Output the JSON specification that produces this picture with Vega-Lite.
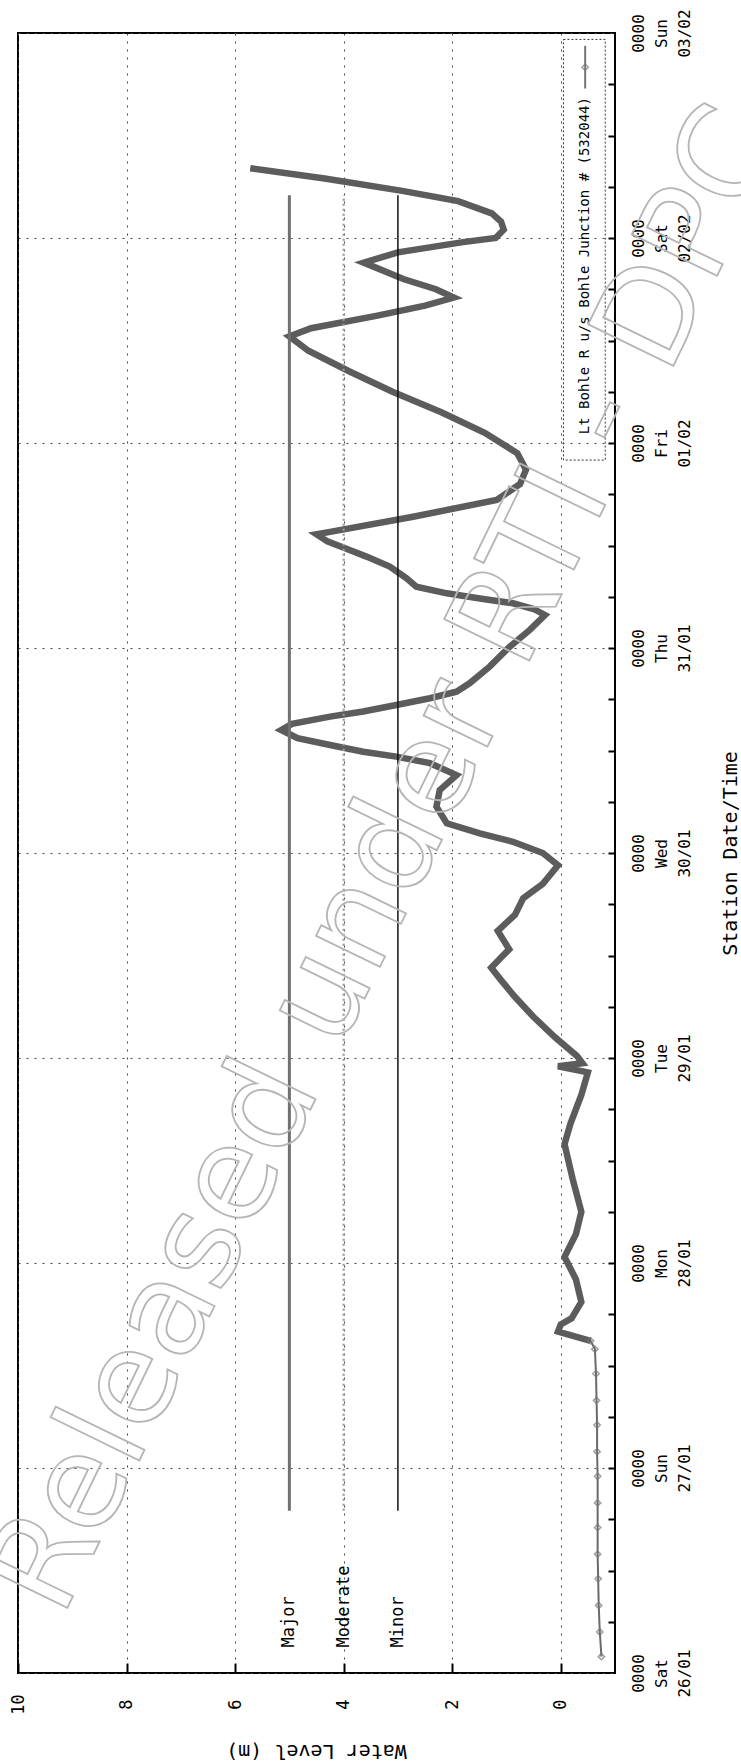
{
  "$schema": "https://vega.github.io/schema/vega-lite/v6.json",
  "width": 597,
  "height": 1640,
  "autosize": {"type": "none"},
  "padding": {"left": 18, "top": 33, "right": 126, "bottom": 91},
  "background": "white",
  "config": {
    "view": {"stroke": "black", "strokeWidth": 2},
    "axis": {"labelFont": "DejaVu Sans Mono", "titleFont": "DejaVu Sans Mono", "labelColor": "#000", "titleColor": "#000", "titleFontWeight": "normal"}
  },
  "resolve": {"axis": {"x": "independent", "y": "independent"}},
  "datasets": {
    "series": [
      {"t": "2019-01-26T01:55", "level": -0.75},
      {"t": "2019-01-26T04:48", "level": -0.72},
      {"t": "2019-01-26T07:55", "level": -0.7},
      {"t": "2019-01-26T11:02", "level": -0.69},
      {"t": "2019-01-26T13:55", "level": -0.68},
      {"t": "2019-01-26T17:02", "level": -0.68},
      {"t": "2019-01-26T19:55", "level": -0.68},
      {"t": "2019-01-26T23:02", "level": -0.68},
      {"t": "2019-01-27T01:55", "level": -0.67},
      {"t": "2019-01-27T05:02", "level": -0.67},
      {"t": "2019-01-27T07:55", "level": -0.66},
      {"t": "2019-01-27T11:02", "level": -0.65},
      {"t": "2019-01-27T13:55", "level": -0.63},
      {"t": "2019-01-27T14:53", "level": -0.55},
      {"t": "2019-01-27T15:58", "level": 0.05},
      {"t": "2019-01-27T16:48", "level": 0.0},
      {"t": "2019-01-27T17:31", "level": -0.2},
      {"t": "2019-01-27T19:26", "level": -0.38},
      {"t": "2019-01-27T22:05", "level": -0.28},
      {"t": "2019-01-28T00:43", "level": -0.07},
      {"t": "2019-01-28T03:22", "level": -0.28},
      {"t": "2019-01-28T06:00", "level": -0.38},
      {"t": "2019-01-28T09:50", "level": -0.22},
      {"t": "2019-01-28T13:55", "level": -0.07},
      {"t": "2019-01-28T16:19", "level": -0.18},
      {"t": "2019-01-28T19:41", "level": -0.38},
      {"t": "2019-01-28T22:19", "level": -0.5},
      {"t": "2019-01-28T23:02", "level": 0.05},
      {"t": "2019-01-28T23:24", "level": -0.4},
      {"t": "2019-01-29T00:14", "level": -0.3},
      {"t": "2019-01-29T02:24", "level": 0.1},
      {"t": "2019-01-29T04:48", "level": 0.5},
      {"t": "2019-01-29T07:12", "level": 0.85},
      {"t": "2019-01-29T09:07", "level": 1.1},
      {"t": "2019-01-29T10:34", "level": 1.28},
      {"t": "2019-01-29T11:46", "level": 1.1},
      {"t": "2019-01-29T12:43", "level": 0.95},
      {"t": "2019-01-29T14:53", "level": 1.16},
      {"t": "2019-01-29T16:48", "level": 0.84},
      {"t": "2019-01-29T18:43", "level": 0.69},
      {"t": "2019-01-29T20:24", "level": 0.33},
      {"t": "2019-01-29T22:34", "level": 0.05},
      {"t": "2019-01-30T00:00", "level": 0.33},
      {"t": "2019-01-30T01:19", "level": 0.88},
      {"t": "2019-01-30T02:18", "level": 1.49},
      {"t": "2019-01-30T03:29", "level": 2.1},
      {"t": "2019-01-30T05:25", "level": 2.29},
      {"t": "2019-01-30T07:22", "level": 2.23},
      {"t": "2019-01-30T09:07", "level": 1.92},
      {"t": "2019-01-30T10:31", "level": 2.41},
      {"t": "2019-01-30T11:17", "level": 3.03},
      {"t": "2019-01-30T11:51", "level": 3.64},
      {"t": "2019-01-30T12:39", "level": 4.25},
      {"t": "2019-01-30T13:26", "level": 4.85},
      {"t": "2019-01-30T14:24", "level": 5.15},
      {"t": "2019-01-30T15:07", "level": 4.95},
      {"t": "2019-01-30T15:58", "level": 4.25},
      {"t": "2019-01-30T16:34", "level": 3.64},
      {"t": "2019-01-30T17:20", "level": 3.03},
      {"t": "2019-01-30T18:07", "level": 2.41},
      {"t": "2019-01-30T18:53", "level": 1.92},
      {"t": "2019-01-30T19:52", "level": 1.68},
      {"t": "2019-01-30T21:49", "level": 1.31},
      {"t": "2019-01-31T00:09", "level": 0.94},
      {"t": "2019-01-31T02:07", "level": 0.57},
      {"t": "2019-01-31T03:52", "level": 0.29},
      {"t": "2019-01-31T04:34", "level": 0.5},
      {"t": "2019-01-31T05:14", "level": 0.88},
      {"t": "2019-01-31T05:48", "level": 1.49},
      {"t": "2019-01-31T06:24", "level": 2.1},
      {"t": "2019-01-31T07:11", "level": 2.66},
      {"t": "2019-01-31T08:10", "level": 2.84},
      {"t": "2019-01-31T09:32", "level": 3.15},
      {"t": "2019-01-31T10:42", "level": 3.58},
      {"t": "2019-01-31T11:28", "level": 3.89},
      {"t": "2019-01-31T12:29", "level": 4.3},
      {"t": "2019-01-31T13:19", "level": 4.5},
      {"t": "2019-01-31T13:36", "level": 4.25},
      {"t": "2019-01-31T15:22", "level": 2.72},
      {"t": "2019-01-31T17:20", "level": 1.18},
      {"t": "2019-01-31T19:12", "level": 0.75},
      {"t": "2019-01-31T20:53", "level": 0.64},
      {"t": "2019-01-31T22:48", "level": 0.8},
      {"t": "2019-02-01T01:12", "level": 1.4},
      {"t": "2019-02-01T03:36", "level": 2.2},
      {"t": "2019-02-01T06:00", "level": 3.1},
      {"t": "2019-02-01T08:24", "level": 3.9},
      {"t": "2019-02-01T10:48", "level": 4.65},
      {"t": "2019-02-01T12:29", "level": 5.0},
      {"t": "2019-02-01T13:26", "level": 4.6},
      {"t": "2019-02-01T14:53", "level": 3.4},
      {"t": "2019-02-01T16:05", "level": 2.5},
      {"t": "2019-02-01T17:02", "level": 1.97},
      {"t": "2019-02-01T18:00", "level": 2.3},
      {"t": "2019-02-01T19:12", "level": 2.9},
      {"t": "2019-02-01T21:07", "level": 3.63},
      {"t": "2019-02-01T22:19", "level": 3.0},
      {"t": "2019-02-01T23:31", "level": 1.8},
      {"t": "2019-02-02T00:00", "level": 1.2},
      {"t": "2019-02-02T00:58", "level": 1.05},
      {"t": "2019-02-02T01:55", "level": 1.1},
      {"t": "2019-02-02T02:53", "level": 1.27},
      {"t": "2019-02-02T04:19", "level": 1.89},
      {"t": "2019-02-02T05:31", "level": 2.92},
      {"t": "2019-02-02T06:58", "level": 4.35},
      {"t": "2019-02-02T08:10", "level": 5.72}
    ],
    "thresholds": [
      {"name": "Major", "level": 5, "start": "2019-01-26T19:00", "end": "2019-02-02T05:00"},
      {"name": "Moderate", "level": 4, "start": "2019-01-26T19:00", "end": "2019-02-02T05:00"},
      {"name": "Minor", "level": 3, "start": "2019-01-26T19:00", "end": "2019-02-02T05:00"}
    ],
    "notes": [
      {"legend": "Lt Bohle R u/s Bohle Junction # (532044)", "watermark": "Released under RTI - DPC"}
    ]
  },
  "layer": [
    {
      "data": {"name": "series", "format": {"parse": {"t": "date"}}},
      "mark": {"type": "line", "color": "#6a6a6a", "strokeWidth": 2},
      "encoding": {
        "x": {
          "field": "level", "type": "quantitative",
          "scale": {"domain": [-1, 10], "reverse": true, "nice": false, "zero": false},
          "axis": {
            "orient": "bottom", "values": [0, 2, 4, 6, 8, 10], "title": "Water Level (m)",
            "titleAngle": 180, "titleFontSize": 20, "titleX": 298, "titleY": 77, "titleAlign": "center", "titleBaseline": "middle",
            "labelAngle": 270, "labelAlign": "center", "labelBaseline": "middle", "labelFontSize": 17, "labelPadding": 31,
            "grid": true, "gridDash": [2, 6], "gridColor": "#444", "gridWidth": 1,
            "ticks": false, "domain": false
          }
        },
        "y": {
          "field": "t", "type": "temporal",
          "scale": {"domain": [{"year": 2019, "month": 1, "date": 26}, {"year": 2019, "month": 2, "date": 3}], "nice": false},
          "axis": {
            "orient": "right",
            "values": [
              {"year": 2019, "month": 1, "date": 26}, {"year": 2019, "month": 1, "date": 27}, {"year": 2019, "month": 1, "date": 28},
              {"year": 2019, "month": 1, "date": 29}, {"year": 2019, "month": 1, "date": 30}, {"year": 2019, "month": 1, "date": 31},
              {"year": 2019, "month": 2, "date": 1}, {"year": 2019, "month": 2, "date": 2}, {"year": 2019, "month": 2, "date": 3}
            ],
            "labelExpr": "['0000', timeFormat(datum.value, '%a'), timeFormat(datum.value, '%d/%m')]",
            "labelAngle": 270, "labelAlign": "center", "labelBaseline": "top", "labelLineHeight": 23, "labelFontSize": 16,
            "labelPadding": 15, "labelOverlap": false, "labelFlush": false,
            "grid": true, "gridDash": [2, 6], "gridColor": "#444", "gridWidth": 1,
            "ticks": false, "domain": false,
            "title": "Station Date/Time", "titleAngle": 270, "titleFontSize": 20, "titleX": 115, "titleY": 820, "titleAlign": "center", "titleBaseline": "middle"
          }
        }
      }
    },
    {
      "data": {"name": "series", "format": {"parse": {"t": "date"}}},
      "transform": [{"filter": {"field": "t", "gte": {"year": 2019, "month": 1, "date": 27, "hours": 14}}}],
      "mark": {"type": "line", "color": "#5c5c5c", "strokeWidth": 6.5},
      "encoding": {
        "x": {
          "field": "level", "type": "quantitative", "scale": {"domain": [-1, 10], "reverse": true, "nice": false, "zero": false},
          "axis": {"orient": "top", "offset": -1640, "values": [0, 2, 4, 6, 8, 10], "labels": false, "title": null, "grid": false, "domain": false, "ticks": true, "tickSize": 10, "tickWidth": 2, "tickColor": "#000"}
        },
        "y": {
          "field": "t", "type": "temporal", "scale": {"domain": [{"year": 2019, "month": 1, "date": 26}, {"year": 2019, "month": 2, "date": 3}], "nice": false},
          "axis": {
            "orient": "left", "offset": -597, "labels": false, "title": null, "grid": false, "domain": false, "ticks": true, "tickSize": 7, "tickWidth": 2, "tickColor": "#000",
            "values": [
              {"year": 2019, "month": 1, "date": 26, "hours": 6}, {"year": 2019, "month": 1, "date": 26, "hours": 12}, {"year": 2019, "month": 1, "date": 26, "hours": 18},
              {"year": 2019, "month": 1, "date": 27}, {"year": 2019, "month": 1, "date": 27, "hours": 6}, {"year": 2019, "month": 1, "date": 27, "hours": 12}, {"year": 2019, "month": 1, "date": 27, "hours": 18},
              {"year": 2019, "month": 1, "date": 28}, {"year": 2019, "month": 1, "date": 28, "hours": 6}, {"year": 2019, "month": 1, "date": 28, "hours": 12}, {"year": 2019, "month": 1, "date": 28, "hours": 18},
              {"year": 2019, "month": 1, "date": 29}, {"year": 2019, "month": 1, "date": 29, "hours": 6}, {"year": 2019, "month": 1, "date": 29, "hours": 12}, {"year": 2019, "month": 1, "date": 29, "hours": 18},
              {"year": 2019, "month": 1, "date": 30}, {"year": 2019, "month": 1, "date": 30, "hours": 6}, {"year": 2019, "month": 1, "date": 30, "hours": 12}, {"year": 2019, "month": 1, "date": 30, "hours": 18},
              {"year": 2019, "month": 1, "date": 31}, {"year": 2019, "month": 1, "date": 31, "hours": 6}, {"year": 2019, "month": 1, "date": 31, "hours": 12}, {"year": 2019, "month": 1, "date": 31, "hours": 18},
              {"year": 2019, "month": 2, "date": 1}, {"year": 2019, "month": 2, "date": 1, "hours": 6}, {"year": 2019, "month": 2, "date": 1, "hours": 12}, {"year": 2019, "month": 2, "date": 1, "hours": 18},
              {"year": 2019, "month": 2, "date": 2}, {"year": 2019, "month": 2, "date": 2, "hours": 6}, {"year": 2019, "month": 2, "date": 2, "hours": 12}, {"year": 2019, "month": 2, "date": 2, "hours": 18}
            ]
          }
        }
      }
    },
    {
      "data": {"name": "series", "format": {"parse": {"t": "date"}}},
      "transform": [{"filter": {"field": "t", "lt": {"year": 2019, "month": 1, "date": 27, "hours": 15}}}],
      "mark": {"type": "point", "shape": "diamond", "filled": false, "color": "#777", "size": 40, "strokeWidth": 1.5},
      "encoding": {
        "x": {"field": "level", "type": "quantitative", "scale": {"domain": [-1, 10], "reverse": true, "nice": false, "zero": false}, "axis": null},
        "y": {"field": "t", "type": "temporal", "scale": {"domain": [{"year": 2019, "month": 1, "date": 26}, {"year": 2019, "month": 2, "date": 3}], "nice": false}, "axis": null}
      }
    },
    {
      "data": {"name": "thresholds", "format": {"parse": {"start": "date", "end": "date"}}},
      "mark": {"type": "rule"},
      "encoding": {
        "x": {"field": "level", "type": "quantitative", "scale": {"domain": [-1, 10], "reverse": true, "nice": false, "zero": false}, "axis": null},
        "y": {"field": "start", "type": "temporal", "scale": {"domain": [{"year": 2019, "month": 1, "date": 26}, {"year": 2019, "month": 2, "date": 3}], "nice": false}, "axis": null},
        "y2": {"field": "end"},
        "color": {"field": "name", "type": "nominal", "scale": {"domain": ["Major", "Moderate", "Minor"], "range": ["#707070", "#9a9a9a", "#111111"]}, "legend": null},
        "strokeDash": {"field": "name", "type": "nominal", "scale": {"domain": ["Major", "Moderate", "Minor"], "range": [[1, 0], [2, 3], [1, 0]]}, "legend": null},
        "strokeWidth": {"field": "name", "type": "ordinal", "scale": {"domain": ["Major", "Moderate", "Minor"], "range": [3, 1.5, 2.5]}, "legend": null}
      }
    },
    {
      "data": {"name": "thresholds"},
      "mark": {"type": "text", "angle": 270, "align": "left", "baseline": "middle", "font": "DejaVu Sans Mono", "fontSize": 17, "color": "#000"},
      "encoding": {
        "x": {"field": "level", "type": "quantitative", "scale": {"domain": [-1, 10], "reverse": true, "nice": false, "zero": false}, "axis": null},
        "y": {"datum": {"year": 2019, "month": 1, "date": 26, "hours": 3}, "type": "temporal", "scale": {"domain": [{"year": 2019, "month": 1, "date": 26}, {"year": 2019, "month": 2, "date": 3}], "nice": false}, "axis": null},
        "text": {"field": "name"}
      }
    },
    {
      "data": {"name": "notes"},
      "mark": {"type": "rect", "fill": null, "fillOpacity": 0, "stroke": "#333", "strokeWidth": 1, "strokeDash": [2, 2]},
      "encoding": {
        "x": {"datum": -0.05, "type": "quantitative", "scale": {"domain": [-1, 10], "reverse": true, "nice": false, "zero": false}, "axis": null},
        "x2": {"datum": -0.82},
        "y": {"datum": {"year": 2019, "month": 1, "date": 31, "hours": 22}, "type": "temporal", "scale": {"domain": [{"year": 2019, "month": 1, "date": 26}, {"year": 2019, "month": 2, "date": 3}], "nice": false}, "axis": null},
        "y2": {"datum": {"year": 2019, "month": 2, "date": 2, "hours": 23, "minutes": 15}}
      }
    },
    {
      "data": {"name": "notes"},
      "mark": {"type": "text", "angle": 270, "align": "right", "baseline": "middle", "font": "DejaVu Sans Mono", "fontSize": 14, "color": "#000"},
      "encoding": {
        "x": {"datum": -0.45, "type": "quantitative", "scale": {"domain": [-1, 10], "reverse": true, "nice": false, "zero": false}, "axis": null},
        "y": {"datum": {"year": 2019, "month": 2, "date": 2, "hours": 16, "minutes": 30}, "type": "temporal", "scale": {"domain": [{"year": 2019, "month": 1, "date": 26}, {"year": 2019, "month": 2, "date": 3}], "nice": false}, "axis": null},
        "text": {"field": "legend"}
      }
    },
    {
      "data": {"name": "notes"},
      "mark": {"type": "rule", "color": "#777", "strokeWidth": 2},
      "encoding": {
        "x": {"datum": -0.45, "type": "quantitative", "scale": {"domain": [-1, 10], "reverse": true, "nice": false, "zero": false}, "axis": null},
        "y": {"datum": {"year": 2019, "month": 2, "date": 2, "hours": 17, "minutes": 30}, "type": "temporal", "scale": {"domain": [{"year": 2019, "month": 1, "date": 26}, {"year": 2019, "month": 2, "date": 3}], "nice": false}, "axis": null},
        "y2": {"datum": {"year": 2019, "month": 2, "date": 2, "hours": 22, "minutes": 30}}
      }
    },
    {
      "data": {"name": "notes"},
      "mark": {"type": "point", "shape": "diamond", "filled": false, "color": "#777", "size": 40, "strokeWidth": 1.5},
      "encoding": {
        "x": {"datum": -0.45, "type": "quantitative", "scale": {"domain": [-1, 10], "reverse": true, "nice": false, "zero": false}, "axis": null},
        "y": {"datum": {"year": 2019, "month": 2, "date": 2, "hours": 20}, "type": "temporal", "scale": {"domain": [{"year": 2019, "month": 1, "date": 26}, {"year": 2019, "month": 2, "date": 3}], "nice": false}, "axis": null}
      }
    },
    {
      "data": {"name": "notes"},
      "mark": {"type": "text", "angle": -64, "align": "center", "baseline": "middle", "font": "DejaVu Sans", "fontSize": 130, "fill": null, "fillOpacity": 0, "stroke": "#b5b5b5", "strokeWidth": 1.8},
      "encoding": {
        "x": {"datum": 3.17, "type": "quantitative", "scale": {"domain": [-1, 10], "reverse": true, "nice": false, "zero": false}, "axis": null},
        "y": {"datum": {"year": 2019, "month": 1, "date": 29, "hours": 23, "minutes": 10}, "type": "temporal", "scale": {"domain": [{"year": 2019, "month": 1, "date": 26}, {"year": 2019, "month": 2, "date": 3}], "nice": false}, "axis": null},
        "text": {"field": "watermark"}
      }
    }
  ]
}
